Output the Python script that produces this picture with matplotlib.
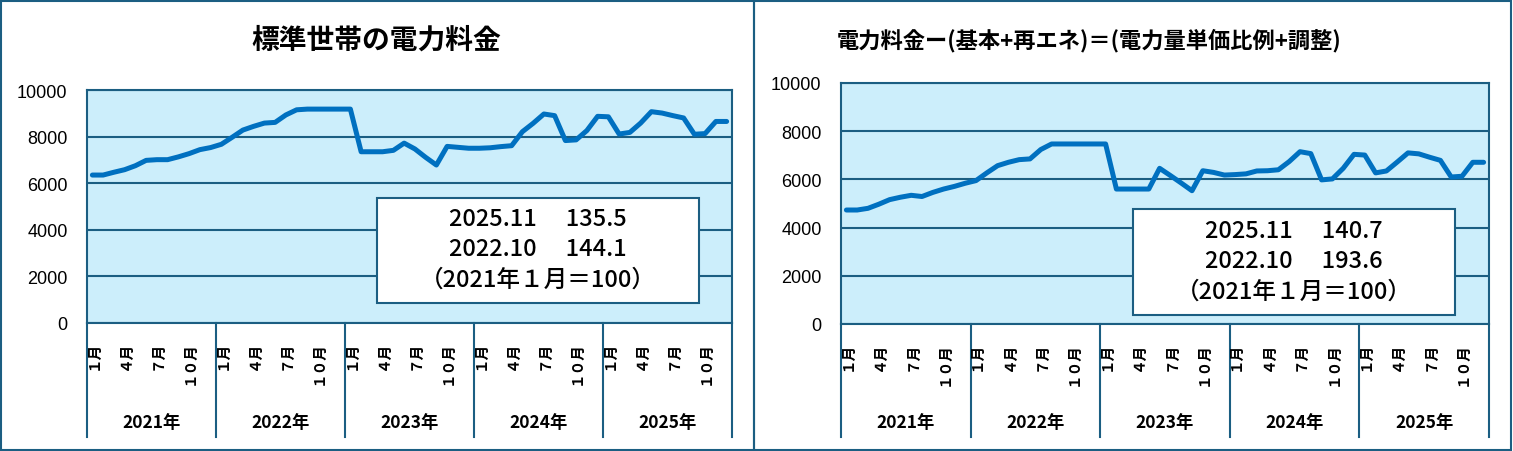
import matplotlib
matplotlib.use("Agg")
from matplotlib import pyplot as plt
from matplotlib.patches import Rectangle
from matplotlib.transforms import blended_transform_factory

plt.rcParams['font.family'] = ['Noto Sans CJK JP', 'DejaVu Sans']

W, H = 1513, 452
FRAME = '#1B5E82'
BG = '#CCEEFB'
LINE = '#0070C0'

years = ['2021年', '2022年', '2023年', '2024年', '2025年']
month_labels = ['１月', '４月', '７月', '１０月']
month_pos = [0, 3, 6, 9]
yticks = [0, 2000, 4000, 6000, 8000, 10000]

# 2021/1 .. 2025/12
standard = [6350, 6350, 6470, 6580, 6750, 6980, 7010, 7010, 7130, 7270, 7440, 7530,
            7670, 7970, 8280, 8440, 8580, 8610, 8930, 9150, 9180, 9180, 9180, 9180,
            9180, 7350, 7350, 7350, 7410, 7720, 7470, 7110, 6780, 7580, 7540, 7500,
            7500, 7520, 7570, 7610, 8210, 8570, 8970, 8900, 7830, 7860, 8260, 8870,
            8850, 8110, 8180, 8580, 9070, 9010, 8900, 8800, 8100, 8130, 8650, 8650]

variable = [4730, 4730, 4800, 4970, 5160, 5260, 5340, 5290, 5460, 5600, 5710, 5840,
            5950, 6270, 6570, 6710, 6820, 6850, 7240, 7470, 7470, 7470, 7470, 7470,
            7470, 5600, 5600, 5600, 5600, 6460, 6160, 5850, 5530, 6360, 6290, 6180,
            6200, 6230, 6350, 6360, 6400, 6740, 7150, 7070, 5980, 6020, 6460, 7040,
            7010, 6270, 6350, 6720, 7100, 7060, 6920, 6790, 6100, 6130, 6710, 6710]

titles = ['標準世帯の電力料金', '電力料金ー(基本+再エネ)＝(電力量単価比例+調整)']
notes = [['2025.11　 135.5', '2022.10　 144.1', '（2021年１月＝100）'],
         ['2025.11　 140.7', '2022.10　 193.6', '（2021年１月＝100）']]

fig = plt.figure(figsize=(W / 100, H / 100), dpi=100)


def px_rect(x0, y0, x1, y1):
    # pixel box (top-left origin) -> figure fraction
    return [x0 / W, 1 - y1 / H, (x1 - x0) / W, (y1 - y0) / H]


def draw_panel(series, axbox, title, tx, tsize, notebox, note_lines, note_y):
    ax = fig.add_axes(px_rect(*axbox))
    ax.set_facecolor(BG)
    n = len(series)
    ax.plot(range(n), series, color=LINE, lw=3.6, solid_capstyle='round',
            solid_joinstyle='round', zorder=3)
    ax.set_xlim(-0.5, n - 0.5)
    ax.set_ylim(0, 10000)
    ax.set_yticks(yticks)
    ax.set_yticklabels([str(v) for v in yticks], family='Liberation Sans', fontsize=13)
    ax.tick_params(axis='y', length=0, pad=14)
    ax.set_xticks([])
    ax.grid(axis='y', color=FRAME, lw=1.5)
    ax.set_axisbelow(True)
    for s in ax.spines.values():
        s.set_color(FRAME)
        s.set_linewidth(1.5)

    bottom_px = axbox[3]
    hpx = axbox[3] - axbox[1]
    depth = (438 - bottom_px) / hpx
    tr = blended_transform_factory(ax.transData, ax.transAxes)
    for k in range(len(years) + 1):
        ax.plot([-0.5 + 12 * k] * 2, [0, -depth], color=FRAME, lw=1.5,
                transform=tr, clip_on=False)
    for k, yr in enumerate(years):
        for p, m in zip(month_pos, month_labels):
            ax.text(12 * k + p, -17 / hpx, m, transform=tr,
                    rotation=90, ha='center', va='top', fontsize=10.5,
                    fontweight='bold')
        ax.text(12 * k + 5.5, -(423 - bottom_px) / hpx, yr,
                transform=tr, ha='center', va='center', fontsize=12.5,
                fontweight='bold')

    fig.text(tx / W, 1 - 41 / H, title, ha='center', va='center',
             fontsize=tsize, fontweight='bold')

    bx0, by0, bx1, by1 = notebox
    fig.patches.append(Rectangle((bx0 / W, 1 - by1 / H), (bx1 - bx0) / W,
                                 (by1 - by0) / H, transform=fig.transFigure,
                                 facecolor='white', edgecolor=FRAME, lw=1.5,
                                 zorder=5))
    cx = (bx0 + bx1) / 2
    for line, yy in zip(note_lines, note_y):
        fig.text(cx / W, 1 - yy / H, line, ha='center', va='center',
                 fontsize=17, fontweight='medium', zorder=6)


# panel frames
fig.patches.append(Rectangle((1 / W, 1 / H), 753 / W, (H - 3) / H,
                             transform=fig.transFigure, fill=False,
                             edgecolor=FRAME, lw=1.5))
fig.patches.append(Rectangle((754 / W, 1 / H), (W - 756) / W, (H - 3) / H,
                             transform=fig.transFigure, fill=False,
                             edgecolor=FRAME, lw=1.5))

draw_panel(standard, (87, 91, 732, 324), titles[0], 376, 20,
           (377, 199, 699, 304), notes[0], [220, 250, 280])
draw_panel(variable, (841, 84, 1489, 325), titles[1], 1089, 16,
           (1133, 210, 1455, 316), notes[1], [232, 262, 292])

fig.savefig('out.png', dpi=100)
